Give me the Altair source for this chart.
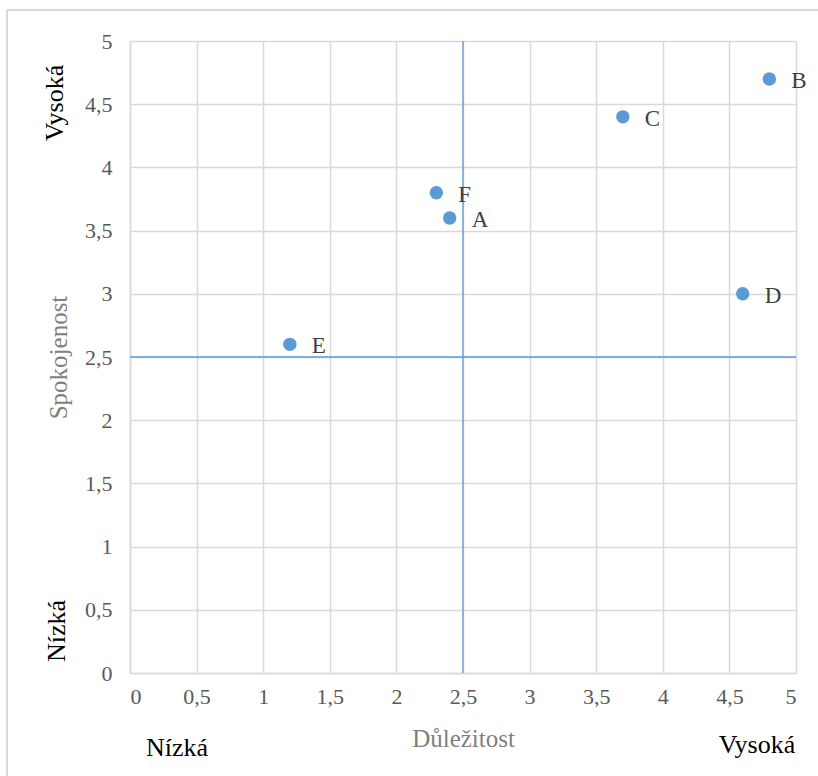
import altair as alt
import pandas as pd

names = ["A", "B", "C", "D", "E", "F"]
importance = [2.4, 4.8, 3.7, 4.6, 1.2, 2.3]
satisfaction = [3.6, 4.7, 4.4, 3.0, 2.6, 3.8]
ticks = [0, 0.5, 1, 1.5, 2, 2.5, 3, 3.5, 4, 4.5, 5]
ref_x = [2.5]
ref_y = [2.5]

df = pd.DataFrame({"name": names, "x": importance, "y": satisfaction})

FONT = "'Liberation Serif', 'Times New Roman', Times, serif"
W, H = 666, 632
label_expr = "replace(format(datum.value, '~g'), '.', ',')"

xscale = alt.Scale(domain=[0, 5], nice=False, zero=False)
yscale = alt.Scale(domain=[0, 5], nice=False, zero=False)

xaxis = alt.Axis(values=ticks, labelExpr=label_expr, title="Důležitost",
                 grid=True, gridColor="#d9d9d9", gridWidth=1.5,
                 domainColor="#d9d9d9", domainWidth=1.5, ticks=False,
                 labelFont=FONT, labelFontSize=22, labelColor="#595959",
                 labelPadding=13, titleFont=FONT, titleFontSize=25,
                 titleColor="#7f7f7f", titleFontWeight="normal",
                 titleX=W / 2, titleY=65, titleBaseline="middle")
yaxis = alt.Axis(values=ticks, labelExpr=label_expr, title="Spokojenost",
                 grid=True, gridColor="#d9d9d9", gridWidth=1.5,
                 domainColor="#d9d9d9", domainWidth=1.5, ticks=False,
                 labelFont=FONT, labelFontSize=22, labelColor="#595959",
                 labelPadding=18, titleFont=FONT, titleFontSize=25,
                 titleColor="#7f7f7f", titleFontWeight="normal",
                 titleX=-72, titleY=H / 2, titleAngle=-90,
                 titleBaseline="middle", titleAlign="center")

base = alt.Chart(df)

points = base.mark_point(filled=True, size=180, opacity=1, color="#5b9bd5").encode(
    x=alt.X("x:Q", scale=xscale, axis=xaxis),
    y=alt.Y("y:Q", scale=yscale, axis=yaxis),
)
labels = base.mark_text(align="left", baseline="middle", dx=22, dy=2,
                        font=FONT, fontSize=23, color="#404040").encode(
    x=alt.X("x:Q", scale=xscale), y=alt.Y("y:Q", scale=yscale), text="name:N")

vline = alt.Chart(pd.DataFrame({"v": ref_x})).mark_rule(color="#5b9bd5", strokeWidth=1.3).encode(
    x=alt.X("v:Q", scale=xscale))
hline = alt.Chart(pd.DataFrame({"v": ref_y})).mark_rule(color="#5b9bd5", strokeWidth=1.3).encode(
    y=alt.Y("v:Q", scale=yscale))

# outer chart-area border
border_top = alt.Chart(df).mark_rule(color="#d9d9d9", strokeWidth=2).encode(
    x=alt.value(-123), x2=alt.value(760), y=alt.value(-31))
border_left = alt.Chart(df).mark_rule(color="#d9d9d9", strokeWidth=2).encode(
    x=alt.value(-123), y=alt.value(-31), y2=alt.value(760))

left_high = alt.Chart(pd.DataFrame({"t": ["Vysoká"]})).mark_text(
    font=FONT, fontSize=26, color="#000000", angle=270, align="center", baseline="middle").encode(
    text="t:N", x=alt.value(-75), y=alt.value(62))
left_low = alt.Chart(pd.DataFrame({"t": ["Nízká"]})).mark_text(
    font=FONT, fontSize=26, color="#000000", angle=270, align="center", baseline="middle").encode(
    text="t:N", x=alt.value(-73), y=alt.value(590))
bottom_low = alt.Chart(pd.DataFrame({"t": ["Nízká"]})).mark_text(
    font=FONT, fontSize=26, color="#000000", align="center", baseline="middle").encode(
    text="t:N", x=alt.value(47), y=alt.value(707))
bottom_high = alt.Chart(pd.DataFrame({"t": ["Vysoká"]})).mark_text(
    font=FONT, fontSize=26, color="#000000", align="center", baseline="middle").encode(
    text="t:N", x=alt.value(627), y=alt.value(704))

chart = alt.layer(border_top, border_left, vline, hline, points, labels,
                  left_high, left_low, bottom_low, bottom_high).properties(
    width=W, height=H,
    autosize=alt.AutoSizeParams(type="none"),
    padding={"left": 130, "top": 41, "right": 22, "bottom": 103},
    background="white",
).configure_view(stroke=None)

chart.save("out.html", embed_options={"renderer": "svg", "actions": False})
